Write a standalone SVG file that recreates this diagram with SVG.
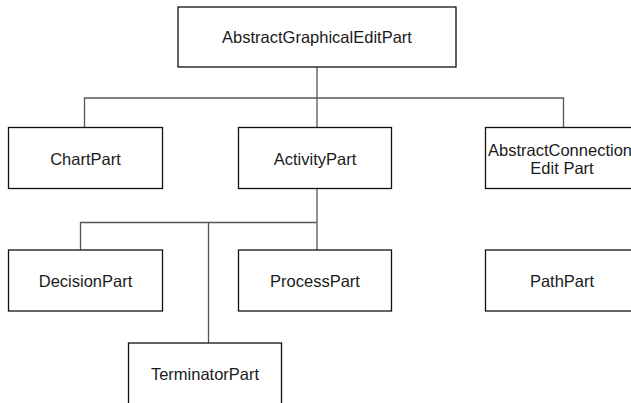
<svg xmlns="http://www.w3.org/2000/svg" width="631" height="403" viewBox="0 0 631 403">
<style>
.box{fill:#fff;stroke:#111;stroke-width:1.3}
.conn{fill:none;stroke:#555;stroke-width:1.3}
text{font-family:"Liberation Sans",Arial,sans-serif;font-size:16.5px;fill:#1a1a1a;text-anchor:middle}
</style>
<rect width="631" height="403" fill="#fff"/>
<g id="connectors">
<path class="conn" d="M317 67V250"/>
<path class="conn" d="M84.5 127.5V98H563.5V127.5"/>
<path class="conn" d="M80.5 250V222.5H317"/>
<path class="conn" d="M208.5 222.5V343"/>
</g>
<g id="AbstractGraphicalEditPart">
<rect class="box" x="178" y="7" width="278" height="60"/>
<text x="317" y="43">AbstractGraphicalEditPart</text>
</g>
<g id="ChartPart">
<rect class="box" x="8.5" y="127.5" width="154" height="61"/>
<text x="85.5" y="165">ChartPart</text>
</g>
<g id="ActivityPart">
<rect class="box" x="238.5" y="127.5" width="153" height="61"/>
<text x="315" y="165">ActivityPart</text>
</g>
<g id="AbstractConnectionEditPart">
<rect class="box" x="485.5" y="127.5" width="156" height="61"/>
<text x="560" y="156">AbstractConnection</text>
<text x="562" y="174">Edit Part</text>
</g>
<g id="DecisionPart">
<rect class="box" x="8.5" y="250" width="154" height="61"/>
<text x="85.5" y="287">DecisionPart</text>
</g>
<g id="ProcessPart">
<rect class="box" x="238.5" y="250" width="153" height="61"/>
<text x="315" y="287">ProcessPart</text>
</g>
<g id="PathPart">
<rect class="box" x="485.5" y="250" width="156" height="61"/>
<text x="562" y="287">PathPart</text>
</g>
<g id="TerminatorPart">
<rect class="box" x="128.5" y="343" width="153" height="70"/>
<text x="205" y="380">TerminatorPart</text>
</g>
</svg>
